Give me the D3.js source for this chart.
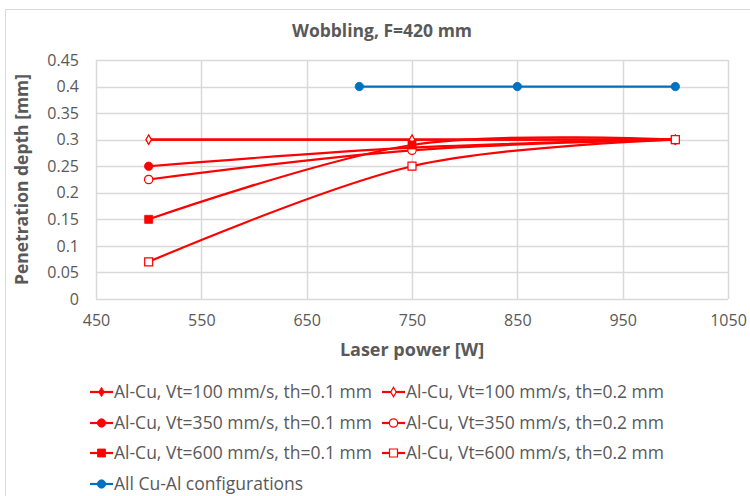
<!DOCTYPE html>
<html>
<head>
<meta charset="utf-8">
<script src="https://cdn.jsdelivr.net/npm/d3@7"></script>
<style>
  body { margin: 0; background: #fff; }
  text { font-family: "Open Sans", sans-serif; fill: #595959; }
</style>
</head>
<body>
<div id="chart"></div>
<script>
// data
var redPower = [500, 750, 1000];
var vt100th01 = [0.3, 0.3, 0.3];
var vt100th02 = [0.3, 0.3, 0.3];
var vt350th01 = [0.25, 0.285, 0.3];
var vt350th02 = [0.225, 0.28, 0.3];
var vt600th01 = [0.15, 0.29, 0.3];
var vt600th02 = [0.07, 0.25, 0.3];
var bluePower = [700, 850, 1000];
var cuAl = [0.4, 0.4, 0.4];

var xTicks = [450, 550, 650, 750, 850, 950, 1050];
var yTicks = [0, 0.05, 0.1, 0.15, 0.2, 0.25, 0.3, 0.35, 0.4, 0.45];

var seriesNames = [
  "Al-Cu, Vt=100 mm/s, th=0.1 mm", "Al-Cu, Vt=100 mm/s, th=0.2 mm",
  "Al-Cu, Vt=350 mm/s, th=0.1 mm", "Al-Cu, Vt=350 mm/s, th=0.2 mm",
  "Al-Cu, Vt=600 mm/s, th=0.1 mm", "Al-Cu, Vt=600 mm/s, th=0.2 mm",
  "All Cu-Al configurations"
];

var red = "#ff0000", blue = "#0070c0", grid = "#d9d9d9";

var series = [
  { name: seriesNames[0], xs: redPower, ys: vt100th01, color: red, shape: d3.symbolDiamond, size: 26, open: false },
  { name: seriesNames[1], xs: redPower, ys: vt100th02, color: red, shape: d3.symbolDiamond, size: 26, open: true },
  { name: seriesNames[2], xs: redPower, ys: vt350th01, color: red, shape: d3.symbolCircle, size: 55, open: false },
  { name: seriesNames[3], xs: redPower, ys: vt350th02, color: red, shape: d3.symbolCircle, size: 55, open: true },
  { name: seriesNames[4], xs: redPower, ys: vt600th01, color: red, shape: d3.symbolSquare, size: 64, open: false },
  { name: seriesNames[5], xs: redPower, ys: vt600th02, color: red, shape: d3.symbolSquare, size: 64, open: true },
  { name: seriesNames[6], xs: bluePower, ys: cuAl, color: blue, shape: d3.symbolCircle, size: 55, open: false }
];

var W = 750, H = 496;
var margin = { left: 96, right: 22, top: 60, bottom: 197 };
var width = W - margin.left - margin.right,
    height = H - margin.top - margin.bottom;

var svg = d3.select("#chart").append("svg")
    .attr("width", W)
    .attr("height", H);

// chart border
svg.append("rect")
    .attr("x", 5.5).attr("y", 9.5)
    .attr("width", 800).attr("height", 600)
    .attr("fill", "none")
    .attr("stroke", grid);

// title
svg.append("text")
    .attr("x", 382).attr("y", 37)
    .attr("text-anchor", "middle")
    .attr("font-size", "17.5px")
    .attr("font-weight", "bold")
    .text("Wobbling, F=420 mm");

var g = svg.append("g")
    .attr("transform", "translate(" + margin.left + "," + margin.top + ")");

var x = d3.scaleLinear().domain([450, 1050]).range([0, width]);
var y = d3.scaleLinear().domain([0, 0.45]).range([height, 0]);

// gridlines
g.selectAll(".hgrid").data(yTicks).enter().append("line")
    .attr("x1", 0).attr("x2", width)
    .attr("y1", function(d) { return Math.round(y(d)) + 0.5; })
    .attr("y2", function(d) { return Math.round(y(d)) + 0.5; })
    .attr("stroke", grid).attr("stroke-width", 1.5);
g.selectAll(".vgrid").data(xTicks).enter().append("line")
    .attr("y1", 0).attr("y2", height)
    .attr("x1", function(d) { return Math.round(x(d)) + 0.5; })
    .attr("x2", function(d) { return Math.round(x(d)) + 0.5; })
    .attr("stroke", grid).attr("stroke-width", 1.5);

// axes (labels only)
var xAxis = g.append("g")
    .attr("transform", "translate(0," + height + ")")
    .call(d3.axisBottom(x).tickValues(xTicks).tickSize(0).tickPadding(16)
      .tickFormat(d3.format("d")));
var yAxis = g.append("g")
    .call(d3.axisLeft(y).tickValues(yTicks).tickSize(0).tickPadding(17)
      .tickFormat(function(d) { return d3.format("~g")(d); }));
[xAxis, yAxis].forEach(function(a) {
  a.select(".domain").remove();
  a.selectAll("text")
      .attr("font-family", "Open Sans, sans-serif")
      .attr("font-size", "16px")
      .attr("fill", "#595959");
});

// axis titles
svg.append("text")
    .attr("x", margin.left + width / 2).attr("y", 356)
    .attr("text-anchor", "middle")
    .attr("font-size", "18px")
    .attr("font-weight", "bold")
    .text("Laser power [W]");
svg.append("text")
    .attr("transform", "translate(28," + (margin.top + height / 2) + ") rotate(-90)")
    .attr("text-anchor", "middle")
    .attr("font-size", "17.5px")
    .attr("font-weight", "bold")
    .text("Penetration depth [mm]");

// lines
var line = d3.line()
    .x(function(d) { return x(d[0]); })
    .y(function(d) { return y(d[1]); })
    .curve(d3.curveCardinal.tension(0));

series.forEach(function(s) {
  var pts = s.xs.map(function(v, i) { return [v, s.ys[i]]; });
  g.append("path")
      .attr("d", line(pts))
      .attr("fill", "none")
      .attr("stroke", s.color)
      .attr("stroke-width", 2.2);
});

function marker(sel, s) {
  sel.attr("d", d3.symbol().type(s.shape).size(s.size)())
      .attr("fill", s.open ? "#fff" : s.color)
      .attr("stroke", s.color)
      .attr("stroke-width", s.open ? 1.2 : 0.8);
}

series.forEach(function(s) {
  s.xs.forEach(function(v, i) {
    g.append("path")
        .attr("transform", "translate(" + x(v) + "," + y(s.ys[i]) + ")")
        .call(marker, s);
  });
});

// legend
var legendPos = [
  [90, 392], [382, 392],
  [90, 423], [382, 423],
  [90, 453], [382, 453],
  [90, 484]
];
series.forEach(function(s, i) {
  var lg = svg.append("g")
      .attr("transform", "translate(" + legendPos[i][0] + "," + legendPos[i][1] + ")");
  lg.append("line")
      .attr("x1", 0).attr("x2", 23)
      .attr("stroke", s.color).attr("stroke-width", 2.2);
  lg.append("path")
      .attr("transform", "translate(11.5,0)")
      .call(marker, s);
  lg.append("text")
      .attr("x", 24).attr("y", 6)
      .attr("font-size", "17.5px")
      .text(s.name);
});
</script>
</body>
</html>
